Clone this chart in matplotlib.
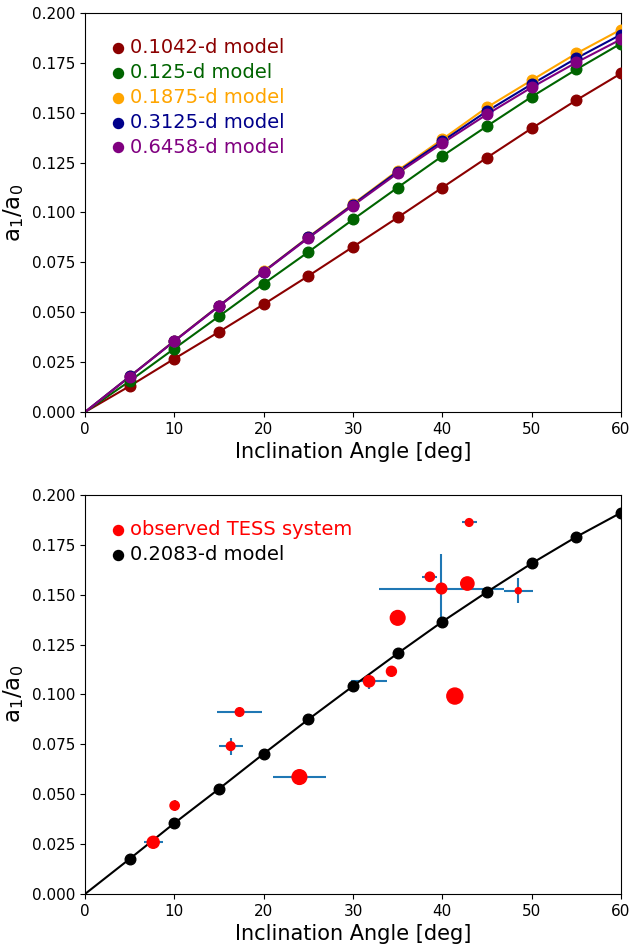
import numpy as np
import matplotlib
matplotlib.use('Agg')
import matplotlib.pyplot as plt

# inclination grid for the models
incl = [5, 10, 15, 20, 25, 30, 35, 40, 45, 50, 55, 60]

# a1/a0 for each model period
m_01042 = [0.0130, 0.0267, 0.0402, 0.0540, 0.0682, 0.0828, 0.0975, 0.1125, 0.1275, 0.1422, 0.1563, 0.1697]
m_0125 = [0.0155, 0.0318, 0.0480, 0.0643, 0.0802, 0.0965, 0.1125, 0.1283, 0.1433, 0.1580, 0.1717, 0.1847]
m_01875 = [0.0178, 0.0357, 0.0533, 0.0705, 0.0877, 0.1043, 0.1210, 0.1367, 0.1527, 0.1663, 0.1797, 0.1917]
m_03125 = [0.0178, 0.0356, 0.0532, 0.0704, 0.0875, 0.1040, 0.1205, 0.1357, 0.1508, 0.1643, 0.1773, 0.1892]
m_06458 = [0.0177, 0.0355, 0.0530, 0.0702, 0.0872, 0.1035, 0.1197, 0.1347, 0.1492, 0.1627, 0.1752, 0.1868]
m_02083 = [0.0176, 0.0355, 0.0527, 0.0703, 0.0875, 0.1042, 0.1206, 0.1365, 0.1514, 0.1657, 0.1790, 0.1911]

models = [(m_01042, 'darkred', '0.1042-d model'),
          (m_0125, 'darkgreen', '0.125-d model'),
          (m_01875, 'orange', '0.1875-d model'),
          (m_03125, 'darkblue', '0.3125-d model'),
          (m_06458, 'purple', '0.6458-d model')]

# observed TESS systems
obs_i = [7.63, 10.03, 16.3, 17.3, 24.0, 31.8, 34.3, 35.0, 38.6, 39.9, 41.4, 42.8, 43.0, 48.5]
obs_a = [0.0259, 0.0443, 0.0741, 0.0912, 0.0586, 0.1066, 0.1116, 0.1384, 0.1590, 0.1531, 0.0992, 0.1556, 0.1862, 0.1520]
obs_ierr = [1.08, 0.0, 1.34, 2.56, 2.95, 2.05, 0.0, 0.0, 0.85, 7.0, 0.0, 0.0, 0.85, 1.65]
obs_aerr = [0.002, 0.0028, 0.0042, 0.0, 0.0015, 0.0038, 0.0, 0.0, 0.0, 0.0175, 0.0, 0.0, 0.0, 0.0063]
obs_size = [75, 45, 39, 39, 112, 66, 52, 112, 45, 59, 133, 92, 31, 19]

fig = plt.figure(figsize=(6.3, 9.48), dpi=100)
ax1 = fig.add_axes([0.135, 0.5654, 0.8507, 0.4209])
ax2 = fig.add_axes([0.135, 0.0570, 0.8507, 0.4209])

for vals, col, lab in models:
    ax1.plot([0] + incl, [0] + vals, '-', color=col, lw=1.5)
    ax1.scatter(incl, vals, s=58, color=col, label=lab, zorder=3)

ax2.errorbar(obs_i, obs_a, xerr=obs_ierr, yerr=obs_aerr, fmt='none', ecolor='C0', elinewidth=1.5, zorder=1)
ax2.plot([0] + incl, [0] + m_02083, '-', color='k', lw=1.5, zorder=2)
ax2.scatter(incl, m_02083, s=58, color='k', label='0.2083-d model', zorder=3)
ax2.scatter(obs_i, obs_a, s=obs_size, color='red', label='observed TESS system', zorder=4)

for ax in (ax1, ax2):
    ax.set_xlim(0, 60)
    ax.set_ylim(0, 0.2)
    ax.set_yticks(np.arange(0, 0.201, 0.025))
    ax.yaxis.set_major_formatter(matplotlib.ticker.FormatStrFormatter('%.3f'))
    ax.tick_params(labelsize=11)
    ax.set_xlabel('Inclination Angle [deg]', fontsize=15)
    ax.set_ylabel('$\\mathregular{a_1/a_0}$', fontsize=16.5)

leg_kw = dict(loc='upper left', frameon=False, fontsize=14, handlelength=0.8, handletextpad=0.2,
              labelspacing=0.3, borderaxespad=0.9, labelcolor='markerfacecolor')

h, l = ax2.get_legend_handles_labels()
order = [1, 0]
leg2 = ax2.legend([h[i] for i in order], [l[i] for i in order], **leg_kw)
for hd in leg2.legend_handles:
    hd.set_sizes([52])
leg1 = ax1.legend(**leg_kw)
for hd in leg1.legend_handles:
    hd.set_sizes([52])

fig.savefig('out.png', dpi=100)
